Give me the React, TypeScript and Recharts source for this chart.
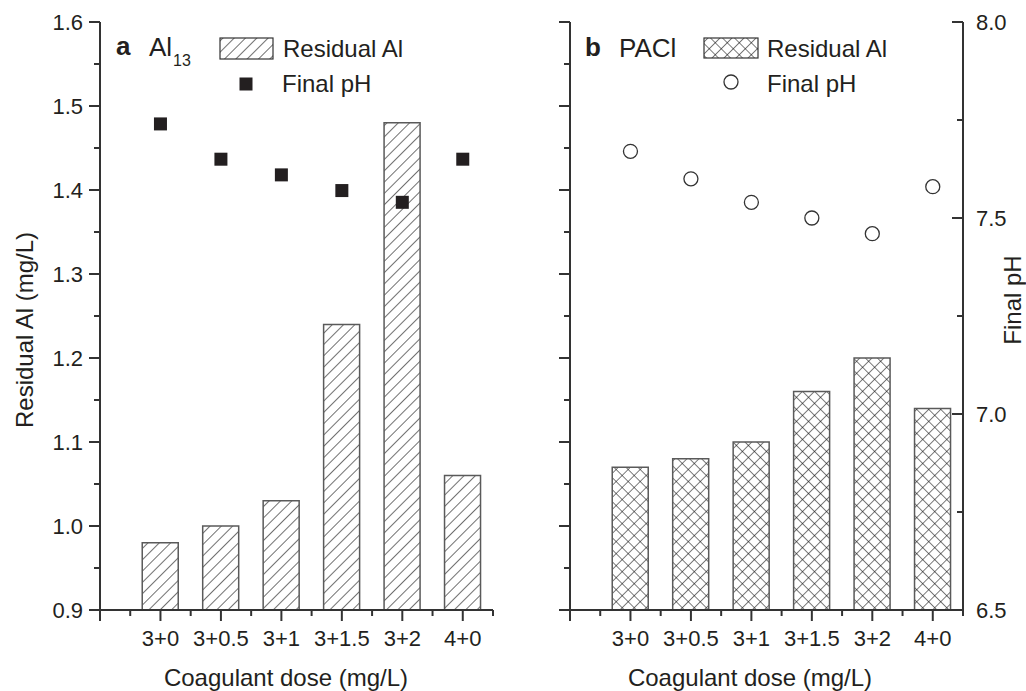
import React from 'react';
import { ComposedChart, Bar, Scatter, XAxis, YAxis, Label } from 'recharts';

// ---------- data ----------
const categories = ['3+0', '3+0.5', '3+1', '3+1.5', '3+2', '4+0'];
const categoryPositions = [1, 2, 3, 4, 5, 6];
const al13Residual = [0.98, 1.0, 1.03, 1.24, 1.48, 1.06];
const al13FinalPH = [7.74, 7.65, 7.61, 7.57, 7.54, 7.65];
const paclResidual = [1.07, 1.08, 1.1, 1.16, 1.2, 1.14];
const paclFinalPH = [7.67, 7.6, 7.54, 7.5, 7.46, 7.58];
const xTicks = [0, 0.5, 1, 1.5, 2, 2.5, 3, 3.5, 4, 4.5, 5, 5.5, 6, 6.5];
const alTicks = [0.9, 0.95, 1.0, 1.05, 1.1, 1.15, 1.2, 1.25, 1.3, 1.35, 1.4, 1.45, 1.5, 1.55, 1.6];
const phTicks = [6.5, 6.75, 7.0, 7.25, 7.5, 7.75, 8.0];

const al13Data = categories.map((c, i) => ({ x: categoryPositions[i], cat: c, al: al13Residual[i], ph: al13FinalPH[i] }));
const paclData = categories.map((c, i) => ({ x: categoryPositions[i], cat: c, al: paclResidual[i], ph: paclFinalPH[i] }));

// ---------- styles ----------
const FONT = '"Liberation Sans", Arial, Helvetica, sans-serif';
const INK = '#231f20';
const AX = '#333333';
const MAJ = 11;
const MIN = 6;

const isMult = (v: number, step: number) => Math.abs(v / step - Math.round(v / step)) < 1e-6;

const XTick = (props: any) => {
  const { x, y, payload } = props;
  const v = payload.value;
  const major = isMult(v, 1);
  const idx = categoryPositions.indexOf(v);
  return (
    <g>
      <line x1={x} x2={x} y1={y} y2={y + (major ? MAJ : MIN)} stroke={AX} strokeWidth={2} />
      {idx >= 0 && (
        <text x={x} y={y + 36} textAnchor="middle" fontSize={22} fill={INK} fontFamily={FONT}>
          {categories[idx]}
        </text>
      )}
    </g>
  );
};

const makeYTick = (side: 'left' | 'right', dir: 'out' | 'in', labels: boolean, step: number) => (props: any) => {
  const { x, y, payload } = props;
  const v = payload.value;
  const major = isMult(v, step);
  const len = major ? MAJ : MIN;
  const sgn = (side === 'left') === (dir === 'out') ? -1 : 1;
  return (
    <g>
      <line x1={x} x2={x + sgn * len} y1={y} y2={y} stroke={AX} strokeWidth={2} />
      {labels && major && (
        <text
          x={side === 'left' ? x - 17 : x + 13}
          y={y}
          dy="0.36em"
          textAnchor={side === 'left' ? 'end' : 'start'}
          fontSize={22}
          fill={INK}
          fontFamily={FONT}
        >
          {v.toFixed(1)}
        </text>
      )}
    </g>
  );
};

const leftOutLabeled = makeYTick('left', 'out', true, 0.1);
const leftOutPlain = makeYTick('left', 'out', false, 0.1);
const rightInPlain = makeYTick('right', 'in', false, 0.5);
const rightInLabeled = makeYTick('right', 'in', true, 0.5);

const axisLine = { stroke: AX, strokeWidth: 2 };

const textTitle = (x: number, y: number, value: string, rotate: boolean) => () => (
  <text
    x={x}
    y={y}
    textAnchor="middle"
    dy={rotate ? '0.36em' : 0}
    fontSize={24}
    fill={INK}
    fontFamily={FONT}
    transform={rotate ? `rotate(-90 ${x} ${y})` : undefined}
  >
    {value}
  </text>
);

const SquareShape = (props: any) => {
  const { cx, cy } = props;
  return <rect x={cx - 6.5} y={cy - 6.5} width={13} height={13} fill={INK} />;
};

const CircleShape = (props: any) => {
  const { cx, cy } = props;
  return <circle cx={cx} cy={cy} r={7} fill="#ffffff" stroke="#333" strokeWidth={1.3} />;
};

export default function App() {
  return (
    <div style={{ position: 'absolute', left: 0, top: 0, width: 1026, height: 691, background: '#fff', fontFamily: FONT }}>
      <div style={{ position: 'absolute', left: 0, top: 0 }}>
        <ComposedChart width={520} height={691} data={al13Data} margin={{ top: 22, right: 27, bottom: 0, left: 0 }}>
          <XAxis
            xAxisId="b"
            dataKey="x"
            type="number"
            domain={[0, 6.5]}
            ticks={xTicks}
            interval={0}
            tick={XTick}
            tickLine={false}
            tickSize={0}
            tickMargin={0}
            axisLine={axisLine}
            height={81}
            allowDataOverflow
          >
            <Label content={textTitle(286, 686, 'Coagulant dose (mg/L)', false)} />
          </XAxis>
          <XAxis xAxisId="t" orientation="top" type="number" domain={[0, 6.5]} tick={false} tickLine={false} axisLine={axisLine} height={0} allowDataOverflow />
          <YAxis
            yAxisId="al"
            type="number"
            domain={[0.9, 1.6]}
            ticks={alTicks}
            interval={0}
            tick={leftOutLabeled}
            tickLine={false}
            tickSize={0}
            tickMargin={0}
            axisLine={axisLine}
            width={100}
            allowDataOverflow
          >
            <Label content={textTitle(24, 330, 'Residual Al (mg/L)', true)} />
          </YAxis>
          <YAxis
            yAxisId="ph"
            orientation="right"
            type="number"
            domain={[6.5, 8]}
            ticks={phTicks}
            interval={0}
            tick={rightInPlain}
            tickLine={false}
            tickSize={0}
            tickMargin={0}
            axisLine={axisLine}
            width={0}
            allowDataOverflow
          />
          <Bar xAxisId="b" yAxisId="al" dataKey="al" barSize={36} fill="url(#hatchDiag)" stroke="#5a5a5a" strokeWidth={1.5} isAnimationActive={false} />
          <Scatter xAxisId="b" yAxisId="ph" dataKey="ph" shape={SquareShape} isAnimationActive={false} />
        </ComposedChart>
      </div>
      <div style={{ position: 'absolute', left: 520, top: 0 }}>
        <ComposedChart width={506} height={691} data={paclData} margin={{ top: 22, right: 0, bottom: 0, left: 0 }}>
          <XAxis
            xAxisId="b"
            dataKey="x"
            type="number"
            domain={[0, 6.5]}
            ticks={xTicks}
            interval={0}
            tick={XTick}
            tickLine={false}
            tickSize={0}
            tickMargin={0}
            axisLine={axisLine}
            height={81}
            allowDataOverflow
          >
            <Label content={textTitle(230, 686, 'Coagulant dose (mg/L)', false)} />
          </XAxis>
          <XAxis xAxisId="t" orientation="top" type="number" domain={[0, 6.5]} tick={false} tickLine={false} axisLine={axisLine} height={0} allowDataOverflow />
          <YAxis
            yAxisId="al"
            type="number"
            domain={[0.9, 1.6]}
            ticks={alTicks}
            interval={0}
            tick={leftOutPlain}
            tickLine={false}
            tickSize={0}
            tickMargin={0}
            axisLine={axisLine}
            width={50}
            allowDataOverflow
          />
          <YAxis
            yAxisId="ph"
            orientation="right"
            type="number"
            domain={[6.5, 8]}
            ticks={phTicks}
            interval={0}
            tick={rightInLabeled}
            tickLine={false}
            tickSize={0}
            tickMargin={0}
            axisLine={axisLine}
            width={63}
            allowDataOverflow
          >
            <Label content={textTitle(492, 300, 'Final pH', true)} />
          </YAxis>
          <Bar xAxisId="b" yAxisId="al" dataKey="al" barSize={36} fill="url(#hatchCross)" stroke="#5a5a5a" strokeWidth={1.5} isAnimationActive={false} />
          <Scatter xAxisId="b" yAxisId="ph" dataKey="ph" shape={CircleShape} isAnimationActive={false} />
        </ComposedChart>
      </div>
      <svg width={1026} height={691} style={{ position: 'absolute', left: 0, top: 0, pointerEvents: 'none' }}>
        <defs>
          <pattern id="hatchDiag" width={8} height={8} patternUnits="userSpaceOnUse" patternTransform="rotate(45)">
            <rect width={8} height={8} fill="#fff" />
            <line x1={0} y1={0} x2={0} y2={8} stroke="#111" strokeWidth={1.2} />
          </pattern>
          <pattern id="hatchCross" width={8.5} height={8.5} patternUnits="userSpaceOnUse" patternTransform="rotate(45)">
            <rect width={8.5} height={8.5} fill="#fff" />
            <line x1={0} y1={0} x2={0} y2={8.5} stroke="#111" strokeWidth={1.1} />
            <line x1={0} y1={0} x2={8.5} y2={0} stroke="#111" strokeWidth={1.1} />
          </pattern>
        </defs>
        {/* panel a */}
        <text x={116} y={55} fontSize={26} fontWeight="bold" fill={INK} fontFamily={FONT}>a</text>
        <text x={149} y={56} fontSize={26} fill={INK} fontFamily={FONT}>Al</text>
        <text x={173} y={66} fontSize={16} fill={INK} fontFamily={FONT}>13</text>
        <rect x={220} y={38} width={53} height={21} fill="url(#hatchDiag)" stroke="#333" strokeWidth={1.2} />
        <text x={283} y={57} fontSize={24} fill={INK} fontFamily={FONT}>Residual Al</text>
        <rect x={239.5} y={77.5} width={13} height={13} fill={INK} />
        <text x={282} y={92} fontSize={24} fill={INK} fontFamily={FONT}>Final pH</text>
        {/* panel b */}
        <text x={585} y={56} fontSize={26} fontWeight="bold" fill={INK} fontFamily={FONT}>b</text>
        <text x={619} y={57} fontSize={26} fill={INK} fontFamily={FONT}>PACl</text>
        <rect x={704} y={38} width={54} height={20} fill="url(#hatchCross)" stroke="#333" strokeWidth={1.2} />
        <text x={767} y={57} fontSize={24} fill={INK} fontFamily={FONT}>Residual Al</text>
        <circle cx={731} cy={82} r={7} fill="#fff" stroke="#333" strokeWidth={1.3} />
        <text x={767} y={92} fontSize={24} fill={INK} fontFamily={FONT}>Final pH</text>
      </svg>
    </div>
  );
}
